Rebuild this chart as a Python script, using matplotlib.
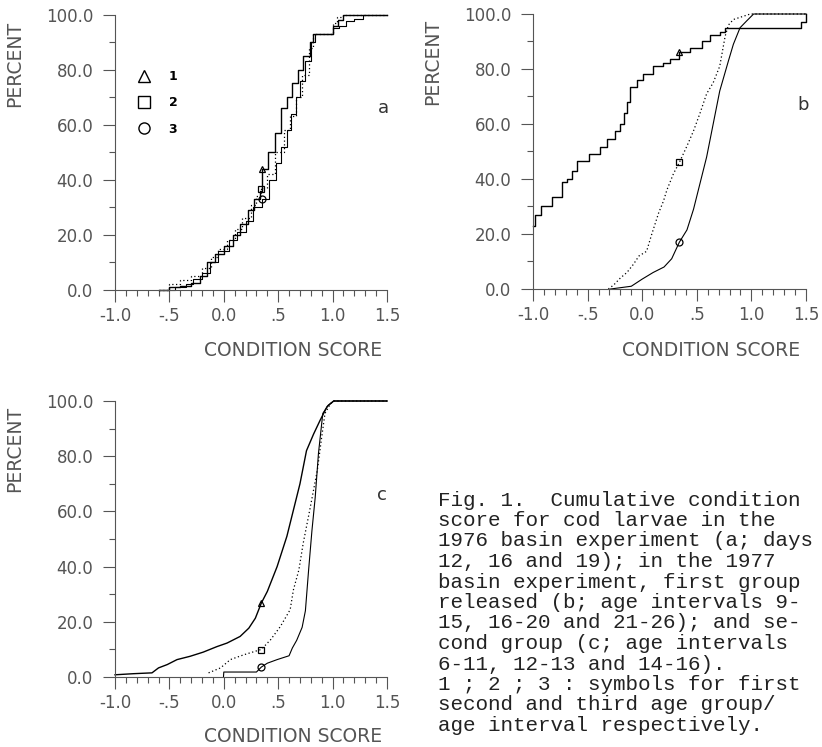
#!/usr/bin/env python3
# Cumulative condition score curves for cod larvae (3 panels + caption)

import numpy as np
import matplotlib.pyplot as plt
from matplotlib.lines import Line2D

# --- DATA ---
# panel a: 1976 basin experiment
A1_X = [-0.6, -0.5, -0.4, -0.3, -0.22, -0.15, -0.08, 0.0, 0.08, 0.15, 0.22, 0.28, 0.33, 0.35,
        0.41, 0.47, 0.53, 0.58, 0.63, 0.68, 0.73, 0.79, 0.82, 0.95, 1.0, 1.05, 1.1, 1.5]
A1_Y = [0, 1, 1.5, 2.5, 5, 10, 13, 16, 20, 24, 29, 33, 36, 44,
        50, 57, 66, 70, 75, 80, 85, 90, 93, 93, 96, 98, 100, 100]
A2_X = [-0.6, -0.5, -0.4, -0.3, -0.2, -0.12, -0.05, 0.03, 0.1, 0.17, 0.25, 0.3, 0.34, 0.4,
        0.47, 0.55, 0.61, 0.66, 0.72, 0.78, 0.82, 0.95, 1.0, 1.04, 1.1, 1.5]
A2_Y = [0, 2, 3.5, 5, 8, 12, 15, 18, 22, 26, 31, 34, 37, 42,
        50, 58, 63, 70, 78, 88, 93, 93, 97, 99, 100, 100]
A3_X = [-0.6, -0.45, -0.35, -0.28, -0.2, -0.13, -0.05, 0.05, 0.12, 0.2, 0.27, 0.35, 0.42, 0.48,
        0.53, 0.58, 0.62, 0.66, 0.7, 0.75, 0.8, 0.84, 0.95, 1.0, 1.06, 1.12, 1.2, 1.28, 1.5]
A3_Y = [0, 1, 2, 4, 6, 10, 14, 18, 21, 25, 30, 33, 40, 46,
        52, 58, 64, 70, 76, 83, 90, 93, 93, 95, 96, 97.5, 98.5, 100, 100]

# panel b: 1977, first group released
B1_X = [-1.0, -0.98, -0.93, -0.83, -0.78, -0.735, -0.69, -0.64, -0.6, -0.52, -0.49, -0.385,
        -0.32, -0.25, -0.2, -0.17, -0.14, -0.11, -0.05, 0.01, 0.1, 0.195, 0.256, 0.34, 0.44,
        0.545, 0.62, 0.71, 0.76, 1.45, 1.5]
B1_Y = [23, 27, 30, 33.5, 33.5, 39, 40, 43, 46.5, 46.5, 49, 51.5,
        54.5, 57.5, 60, 64, 68, 73.5, 76, 78, 81, 82, 83.5, 86, 87.5,
        90, 92.5, 93.5, 95, 97, 100]
B2_X = [-0.31, -0.26, -0.2, -0.14, -0.08, -0.03, 0.04, 0.088, 0.15, 0.195, 0.226, 0.287, 0.34,
        0.41, 0.47, 0.53, 0.59, 0.65, 0.71, 0.76, 0.79, 0.835, 0.99, 1.5]
B2_Y = [0, 1.5, 4, 6, 9, 12, 13.7, 20, 27.6, 32, 36, 42, 46,
        52, 57.5, 64, 71, 75, 81, 92, 96, 98, 100, 100]
B3_X = [-0.29, -0.1, 0.0, 0.1, 0.2, 0.27, 0.34, 0.41, 0.47, 0.53, 0.59, 0.65, 0.71, 0.79,
        0.835, 0.896, 0.957, 1.02, 1.5]
B3_Y = [0, 1, 3.6, 6, 8, 11, 17, 21.5, 29, 38.5, 48, 60, 72, 83,
        89, 95, 97.5, 100, 100]

# panel c: 1977, second group
C1_X = [-1.0, -0.83, -0.66, -0.6, -0.52, -0.43, -0.31, -0.19, -0.064, 0.03, 0.15, 0.23, 0.29,
        0.345, 0.4, 0.49, 0.58, 0.64, 0.7, 0.76, 0.825, 0.885, 0.95, 1.01, 1.5]
C1_Y = [0.8, 1.2, 1.5, 3.3, 4.5, 6.3, 7.5, 9, 11, 12.3, 14.7, 17.7, 21.3,
        26.8, 31, 40, 51, 60.5, 70, 82, 88, 93, 98, 100, 100]
C2_X = [-0.14, -0.03, 0.06, 0.18, 0.345, 0.43, 0.52, 0.61, 0.64, 0.69, 0.73, 0.79, 0.86, 0.9,
        0.93, 0.98, 1.01, 1.5]
C2_Y = [1.5, 3.3, 6.3, 8, 10, 13.5, 18.3, 24.4, 31.6, 38.8, 48.5, 60.5, 75, 87,
        95.5, 99, 100, 100]
C3_X = [-0.003, 0.0, 0.3, 0.345, 0.4, 0.49, 0.6, 0.63, 0.67, 0.72, 0.75, 0.78, 0.81, 0.84,
        0.87, 0.91, 0.96, 1.01, 1.5]
C3_Y = [0, 1.8, 1.8, 3.6, 5, 6.3, 7.7, 10.5, 13.3, 18, 24, 39, 53, 65,
        81, 95.5, 98.5, 100, 100]

# symbols placed on each curve (x, y)
MARK_X = {"a": [0.35, 0.34, 0.35], "b": [0.34, 0.34, 0.34], "c": [0.345, 0.345, 0.345]}
MARK_Y = {"a": [44, 36.5, 33], "b": [86, 46, 17], "c": [26.8, 9.8, 3.6]}

XTICKS = [-1.0, -0.5, 0.0, 0.5, 1.0, 1.5]
XTICK_LABELS = ["-1.0", "-.5", "0.0", ".5", "1.0", "1.5"]
YTICKS = [0, 20, 40, 60, 80, 100]
YTICK_LABELS = ["0.0", "20.0", "40.0", "60.0", "80.0", "100.0"]
GROUP_LABELS = ["1", "2", "3"]

CAPTION = [
    "Fig. 1.  Cumulative condition",
    "score for cod larvae in the",
    "1976 basin experiment (a; days",
    "12, 16 and 19); in the 1977",
    "basin experiment, first group",
    "released (b; age intervals 9-",
    "15, 16-20 and 21-26); and se-",
    "cond group (c; age intervals",
    "6-11, 12-13 and 14-16).",
    "1 ; 2 ; 3 : symbols for first",
    "second and third age group/",
    "age interval respectively.",
]

# --- layout (pixels of an 822x747 canvas) ---
W, H = 822, 747
MARKERS = ["^", "s", "o"]
GRAY = "#555555"


def fx(px):
    return px / W


def fy(py):
    return 1 - py / H


def make_axes(fig, left, top, right, bottom):
    ax = fig.add_axes([fx(left), fy(bottom), fx(right - left), (bottom - top) / H])
    ax.set_xlim(-1.0, 1.5)
    ax.set_ylim(0, 100)
    for s in ("top", "right"):
        ax.spines[s].set_visible(False)
    for s in ("left", "bottom"):
        ax.spines[s].set_color(GRAY)
        ax.spines[s].set_linewidth(0.8)
    ax.set_xticks(XTICKS)
    ax.set_xticklabels(XTICK_LABELS)
    ax.set_xticks(np.arange(-1.0, 1.51, 0.1), minor=True)
    ax.set_yticks(YTICKS)
    ax.set_yticklabels(YTICK_LABELS)
    ax.set_yticks(np.arange(10, 100, 20), minor=True)
    ax.tick_params(which="major", direction="out", length=8.5, width=0.8, color=GRAY,
                   labelcolor="#555555", labelsize=12)
    ax.tick_params(which="minor", direction="out", length=4.3, width=0.8, color=GRAY)
    ax.tick_params(axis="x", which="major", pad=3.5)
    ax.tick_params(axis="y", which="major", pad=7)
    return ax


def plot_panel(ax, curves, key, letter, letter_xy):
    styles = [dict(ls="-", lw=1.0), dict(ls=(0, (1, 2)), lw=0.9), dict(ls="-", lw=0.8)]
    for (x, y, steps), st in zip(curves, styles):
        ax.plot(x, y, color="k", drawstyle="steps-post" if steps else "default",
                clip_on=False, **st)
    for mx, my, m in zip(MARK_X[key], MARK_Y[key], MARKERS):
        ax.plot([mx], [my], marker=m, ms=5, mfc="none", mec="k", mew=0.9, ls="none")
    ax.text(*letter_xy, letter, transform=ax.figure.transFigure, fontsize=13,
            color="#333333", ha="center", va="center")


def main():
    fig = plt.figure(figsize=(W / 100, H / 100), dpi=100)

    ax_a = make_axes(fig, 115, 14.5, 387, 290)
    ax_b = make_axes(fig, 533, 14, 806, 289)
    ax_c = make_axes(fig, 115, 401, 387, 677)

    plot_panel(ax_a, [(A1_X, A1_Y, True), (A2_X, A2_Y, True), (A3_X, A3_Y, True)],
               "a", "a", (fx(383), fy(108)))
    plot_panel(ax_b, [(B1_X, B1_Y, True), (B2_X, B2_Y, False), (B3_X, B3_Y, False)],
               "b", "b", (fx(803), fy(105)))
    plot_panel(ax_c, [(C1_X, C1_Y, False), (C2_X, C2_Y, False), (C3_X, C3_Y, False)],
               "c", "c", (fx(382), fy(495)))

    # symbol key in panel a
    handles = [Line2D([], [], marker=m, ls="none", ms=8, mfc="none", mec="k", mew=1.0)
               for m in MARKERS]
    ax_a.legend(handles, GROUP_LABELS, loc="upper left", bbox_to_anchor=(0.059, 0.82),
                frameon=False, borderpad=0, handlelength=1.0, handletextpad=1.5,
                labelspacing=1.05, prop=dict(size=9, weight="bold"))

    # axis titles
    for cx, cy in [(15, 64), (433, 62), (15, 449)]:
        fig.text(fx(cx), fy(cy), "PERCENT", rotation=90, fontsize=13.5, color=GRAY,
                 ha="center", va="center")
    for cx, cy in [(293, 350), (711, 350), (293, 737)]:
        fig.text(fx(cx), fy(cy), "CONDITION SCORE", fontsize=13.5, color=GRAY,
                 ha="center", va="center")

    # caption (typewriter text, right of panel c)
    for i, line in enumerate(CAPTION):
        fig.text(fx(438), fy(500 + 20.5 * i), line, family="Liberation Mono", fontsize=15,
                 color="#222222", ha="left", va="center")

    fig.savefig("out.png", dpi=100)
    plt.close(fig)


if __name__ == "__main__":
    main()
